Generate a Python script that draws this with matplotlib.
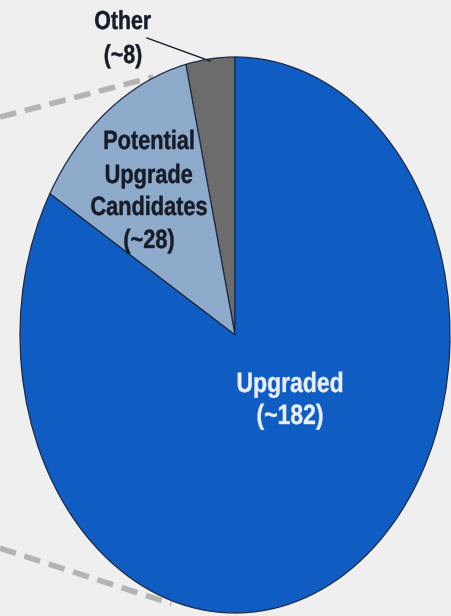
import matplotlib.pyplot as plt
from matplotlib.font_manager import FontProperties
from matplotlib.textpath import TextPath
from matplotlib.patches import PathPatch
from matplotlib.transforms import Affine2D

# counts per group, counter-clockwise from 12 o'clock
categories = ["Other", "Potential\nUpgrade\nCandidates", "Upgraded"]
counts = [8, 28, 182]
colors = ["#6c6c6c", "#8eabcb", "#0f5cc2"]

W, H = 451, 616
fig = plt.figure(figsize=(W / 100, H / 100), dpi=100, facecolor="#efefef")
ax = fig.add_axes([0, 0, 1, 1])
ax.set_facecolor("#efefef")

# grey dashed connector lines behind the pie
ax.plot([0.0, 0.34], [0.81, 0.875], transform=ax.transAxes, color="#b4b4b4",
        lw=4, ls=(0, (3.0, 1.6)), zorder=0, solid_capstyle="butt")
ax.plot([0.0, 0.38], [0.11, 0.02], transform=ax.transAxes, color="#b4b4b4",
        lw=4, ls=(0, (3.0, 1.6)), zorder=0, solid_capstyle="butt")

wedges, _ = ax.pie(counts, colors=colors, startangle=90, counterclock=True,
                   radius=1.0, wedgeprops=dict(edgecolor="#1d2b45", linewidth=0.9))
for w in wedges:
    w.set_zorder(2)

# stretch the pie into a tall ellipse
ax.set_aspect("auto")
ax.set_xlim(-235 / 215, (W - 235) / 215)
ax.set_ylim(-(H - 335) / 278, 335 / 278)
ax.axis("off")

# narrow bold labels: bold sans squeezed horizontally
fp = FontProperties(family="Liberation Sans", weight="bold")


def narrow_label(lines, cx, baselines, size, color, squeeze=0.82):
    for line, by in zip(lines, baselines):
        tp = TextPath((0, 0), line, size=size, prop=fp)
        bb = tp.get_extents()
        x0 = cx - (bb.x0 + bb.width / 2) * squeeze
        tr = Affine2D().scale(squeeze / 100, 1 / 100).translate(x0 / 100, (H - by) / 100)
        fig.add_artist(PathPatch(tp, transform=tr + fig.dpi_scale_trans,
                                 facecolor=color, edgecolor=color, lw=0.3, zorder=6))


def label_lines(i):
    return categories[i].split("\n") + [f"(~{counts[i]})"]


narrow_label(label_lines(0), 123, [29, 63], 26, "#161c28")
ax.plot([147 / W, 210 / W], [1 - 38 / H, 1 - 61 / H], transform=ax.transAxes,
        color="#161c28", lw=1, zorder=5)

narrow_label(label_lines(1), 149, [149, 183, 215, 248], 26.5, "#161c28")

narrow_label(label_lines(2), 290, [392, 424], 28, "#e9eef8")

fig.savefig("out.png", dpi=100, facecolor=fig.get_facecolor())
